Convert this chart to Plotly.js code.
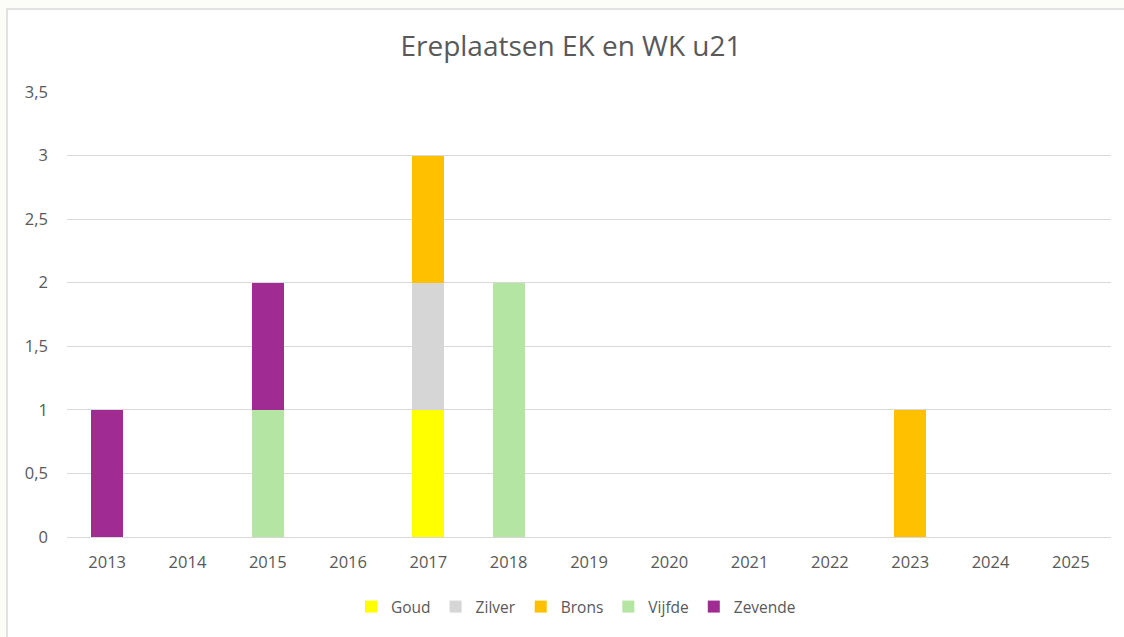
<!DOCTYPE html>
<html>
<head>
<meta charset="utf-8">
<script src="https://cdn.plot.ly/plotly-3.0.1.min.js"></script>
<style>
html,body{margin:0;padding:0;background:#fcfcf8;overflow:hidden;}
#chart{width:1124px;height:637px;}
</style>
</head>
<body>
<div id="chart"></div>
<script>
const years = ["2013","2014","2015","2016","2017","2018","2019","2020","2021","2022","2023","2024","2025"];
const goud    = [0,0,0,0,1,0,0,0,0,0,0,0,0];
const zilver  = [0,0,0,0,1,0,0,0,0,0,0,0,0];
const brons   = [0,0,0,0,1,0,0,0,0,0,1,0,0];
const vijfde  = [0,0,1,0,0,2,0,0,0,0,0,0,0];
const zevende = [1,0,1,0,0,0,0,0,0,0,0,0,0];
const seriesNames = ["Goud","Zilver","Brons","Vijfde","Zevende"];
const seriesColors = ["#FFFF00","#D6D6D6","#FFC000","#B4E5A2","#A02B93"];
const seriesValues = [goud, zilver, brons, vijfde, zevende];

const traces = seriesNames.map((n,i)=>({
  type:'bar', name:n, x:years, y:seriesValues[i],
  marker:{color:seriesColors[i], line:{width:0}},
  hoverinfo:'x+y+name'
}));

const L=67, R=1111, T=92, B=537, W=1124, H=637;
const px = v => (v-L)/(R-L);
const py = v => (B-v)/(B-T);
const FONT = '"Open Sans", Lato, sans-serif';

const layout = {
  width:W, height:H,
  margin:{l:L, r:W-R, t:T, b:H-B, pad:0},
  paper_bgcolor:'#fcfcf8',
  plot_bgcolor:'rgba(0,0,0,0)',
  separators:',.',
  barmode:'stack',
  bargap:0.6,
  font:{family:FONT, color:'#595959', size:16},
  title:{text:'Ereplaatsen EK en WK u21', x:px(571), xref:'paper', xanchor:'center', y:1-46/H, yanchor:'middle',
         font:{size:28, color:'#595959', family:FONT}},
  xaxis:{type:'category', showgrid:false, zeroline:false, showline:false, ticks:'',
         tickfont:{size:16.5, color:'#595959'}, ticklabelstandoff:13, fixedrange:true},
  yaxis:{range:[0,3.5], dtick:0.5, tick0:0, showgrid:true, gridcolor:'#d9d9d9', gridwidth:1,
         zeroline:true, zerolinecolor:'#d9d9d9', zerolinewidth:1, showline:false, ticks:'',
         tickfont:{size:16.5, color:'#595959'}, ticklabelstandoff:18, fixedrange:true},
  legend:{orientation:'h', x:px(576), xanchor:'center', y:py(607), yanchor:'middle',
          bgcolor:'rgba(0,0,0,0)', itemwidth:30, tracegroupgap:0,
          font:{size:15.5, color:'#595959'}, traceorder:'normal', itemclick:false},
  shapes:[{type:'rect', xref:'paper', yref:'paper', layer:'below',
           x0:px(7), x1:px(1135), y0:py(650), y1:py(9),
           fillcolor:'#ffffff', line:{color:'#d9d9d9', width:1.5}}],
  showlegend:true
};

Plotly.newPlot('chart', traces, layout, {displayModeBar:false, staticPlot:true});
</script>
</body>
</html>
